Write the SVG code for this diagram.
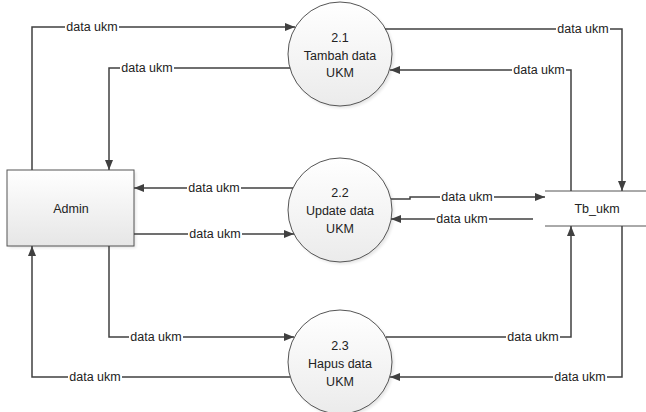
<svg xmlns="http://www.w3.org/2000/svg" width="646" height="412" viewBox="0 0 646 412">
  <style>
    .flow { fill: none; stroke: #404040; stroke-width: 1.5; }
    .lbl { font-family: "Liberation Sans", Arial, sans-serif; font-size: 12.5px; fill: #222; text-anchor: middle; }
    .lblbg { fill: #fff; }
    .txt { font-family: "Liberation Sans", Arial, sans-serif; font-size: 12.5px; fill: #222; text-anchor: middle; }
    .proc { fill: url(#pg); stroke: #555; stroke-width: 1; }
    .shadow { fill: #000; opacity: 0.1; }
  </style>
  <defs>
    <linearGradient id="pg" x1="0" y1="0" x2="0" y2="1">
      <stop offset="0" stop-color="#ffffff"/>
      <stop offset="1" stop-color="#ebebeb"/>
    </linearGradient>
    <linearGradient id="bg" x1="0" y1="0" x2="0" y2="1">
      <stop offset="0" stop-color="#ffffff"/>
      <stop offset="1" stop-color="#e6e6e6"/>
    </linearGradient>
    <filter id="soft" x="-20%" y="-20%" width="140%" height="140%">
      <feGaussianBlur stdDeviation="1.5"/>
    </filter>
    <marker id="arr" markerWidth="10" markerHeight="8" refX="10" refY="4" orient="auto" markerUnits="userSpaceOnUse">
      <path d="M0,0 L10,4 L0,8 Z" fill="#404040"/>
    </marker>
  </defs>

  <!-- external entity -->
  <g id="admin">
    <rect x="9" y="172" width="127" height="76" class="shadow" filter="url(#soft)"/>
    <rect x="7" y="170" width="127" height="76" fill="url(#bg)" stroke="#555" stroke-width="1"/>
    <text x="71" y="213" class="txt">Admin</text>
  </g>

  <!-- processes -->
  <g id="p21">
    <circle cx="342" cy="56" r="52" class="shadow" filter="url(#soft)"/>
    <circle cx="340" cy="54" r="52" class="proc"/>
    <text x="340" y="42" class="txt">2.1</text>
    <text x="340" y="60" class="txt">Tambah data</text>
    <text x="340" y="77" class="txt">UKM</text>
  </g>
  <g id="p22">
    <circle cx="342" cy="212" r="52" class="shadow" filter="url(#soft)"/>
    <circle cx="340" cy="210" r="52" class="proc"/>
    <text x="340" y="197" class="txt">2.2</text>
    <text x="340" y="215" class="txt">Update data</text>
    <text x="340" y="233" class="txt">UKM</text>
  </g>
  <g id="p23">
    <circle cx="342" cy="364" r="52" class="shadow" filter="url(#soft)"/>
    <circle cx="340" cy="362" r="52" class="proc"/>
    <text x="340" y="350" class="txt">2.3</text>
    <text x="340" y="368" class="txt">Hapus data</text>
    <text x="340" y="386" class="txt">UKM</text>
  </g>

  <!-- data store -->
  <g id="tb_ukm">
    <line x1="545" y1="191" x2="646" y2="191" stroke="#555" stroke-width="1"/>
    <line x1="545" y1="226" x2="646" y2="226" stroke="#555" stroke-width="1"/>
    <text x="597" y="213" class="txt">Tb_ukm</text>
  </g>

  <!-- data flows -->
  <g id="flows">
    <path class="flow" d="M32,170 V27 H295" marker-end="url(#arr)"/>
    <path class="flow" d="M290,68 H109 V170" marker-end="url(#arr)"/>
    <path class="flow" d="M385,29 H622 V191" marker-end="url(#arr)"/>
    <path class="flow" d="M571,191 V70 H390" marker-end="url(#arr)"/>

    <path class="flow" d="M293,188 H134" marker-end="url(#arr)"/>
    <path class="flow" d="M134,234 H294" marker-end="url(#arr)"/>
    <path class="flow" d="M391,199 H410 V197 H545" marker-end="url(#arr)"/>
    <path class="flow" d="M533,219 H391" marker-end="url(#arr)"/>

    <path class="flow" d="M109,246 V337 H294" marker-end="url(#arr)"/>
    <path class="flow" d="M290,377 H32 V246" marker-end="url(#arr)"/>
    <path class="flow" d="M386,337 H571 V226" marker-end="url(#arr)"/>
    <path class="flow" d="M622,226 V377 H390" marker-end="url(#arr)"/>

    <!-- label backgrounds break the flow lines -->
    <rect class="lblbg" x="65" y="21" width="54" height="12"/>
    <rect class="lblbg" x="120" y="62" width="54" height="12"/>
    <rect class="lblbg" x="556" y="23" width="54" height="12"/>
    <rect class="lblbg" x="512" y="64" width="54" height="12"/>
    <rect class="lblbg" x="187" y="182" width="54" height="12"/>
    <rect class="lblbg" x="188" y="228" width="54" height="12"/>
    <rect class="lblbg" x="440" y="191" width="54" height="12"/>
    <rect class="lblbg" x="435" y="213" width="54" height="12"/>
    <rect class="lblbg" x="129" y="331" width="54" height="12"/>
    <rect class="lblbg" x="68" y="371" width="54" height="12"/>
    <rect class="lblbg" x="506" y="331" width="54" height="12"/>
    <rect class="lblbg" x="553" y="371" width="54" height="12"/>

    <text x="92" y="31" class="lbl">data ukm</text>
    <text x="147" y="72" class="lbl">data ukm</text>
    <text x="583" y="33" class="lbl">data ukm</text>
    <text x="539" y="74" class="lbl">data ukm</text>
    <text x="214" y="192" class="lbl">data ukm</text>
    <text x="215" y="238" class="lbl">data ukm</text>
    <text x="467" y="201" class="lbl">data ukm</text>
    <text x="462" y="223" class="lbl">data ukm</text>
    <text x="156" y="341" class="lbl">data ukm</text>
    <text x="95" y="381" class="lbl">data ukm</text>
    <text x="533" y="341" class="lbl">data ukm</text>
    <text x="580" y="381" class="lbl">data ukm</text>
  </g>
</svg>
